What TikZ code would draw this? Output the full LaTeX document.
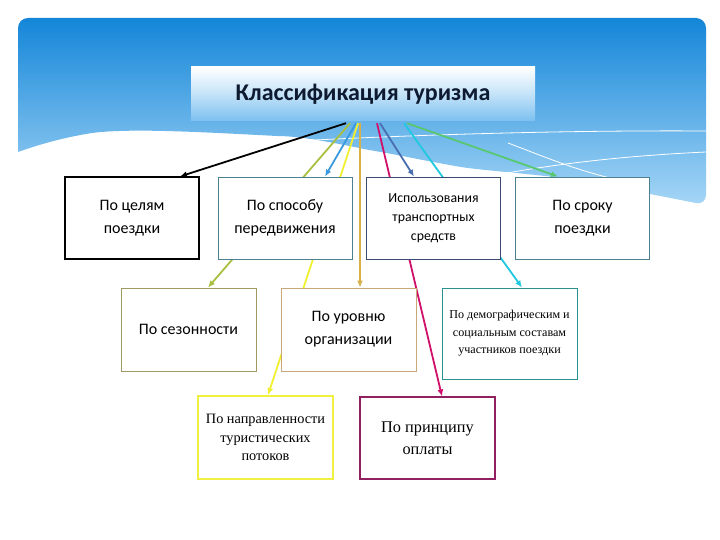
\documentclass[tikz,border=0pt]{standalone}
\usepackage{fontspec}
\setmainfont{Carlito}
\newfontfamily\serifru{Liberation Serif}
\usetikzlibrary{arrows.meta,calc}
\pgfdeclarelayer{bg}
\pgfdeclarelayer{mid}
\pgfsetlayers{bg,mid,main}
\definecolor{cBlack}{HTML}{000000}
\definecolor{cLime}{HTML}{A8C040}
\definecolor{cBlue}{HTML}{3A9AE0}
\definecolor{cYellow}{HTML}{F0F030}
\definecolor{cTan}{HTML}{D8B048}
\definecolor{cMag}{HTML}{D0106A}
\definecolor{cSteel}{HTML}{4A6FB0}
\definecolor{cCyan}{HTML}{20C8E0}
\definecolor{cGreen}{HTML}{58C870}
\definecolor{bTeal}{HTML}{4A8090}
\definecolor{bNavy}{HTML}{3C4C70}
\definecolor{bOlive}{HTML}{A09A60}
\definecolor{bTan}{HTML}{C8A878}
\definecolor{bDemo}{HTML}{2A9090}
\definecolor{bPlum}{HTML}{902060}
\definecolor{bYel}{HTML}{F0F040}
\definecolor{panelTop}{HTML}{1486D8}
\definecolor{panelBot}{HTML}{A6D6F6}
\definecolor{titleBot}{HTML}{7CC0F0}
\definecolor{titleText}{HTML}{0E1A30}
\begin{document}
\begin{tikzpicture}[x=1pt,y=-1pt,
  box/.style={draw, fill=white, line width=0.9pt, inner sep=2pt, align=center,
    minimum width=134pt, minimum height=82pt, font=\fontsize{16}{23}\selectfont},
  sbox/.style={box, font=\fontsize{13.8}{19}\selectfont},
  serbox/.style={box, font=\serifru\fontsize{12.1}{17.5}\selectfont},
  conn/.style={line width=1.8pt, -{Latex[length=7pt,width=6pt]}},
  deco/.style={white, line width=0.8pt}]
\useasboundingbox (0,0) rectangle (720,540);

% background panel
\begin{pgfonlayer}{bg}
\fill[white] (0,0) rectangle (720,540);
\shade[top color=panelTop, bottom color=panelBot, rounded corners=10pt]
  (18,152) -- (18,18) -- (706,18) -- (706,205)
  [sharp corners] .. controls (640,192) and (590,182) .. (554,177)
  .. controls (510,172) and (480,170) .. (461,167)
  .. controls (420,160) and (400,155) .. (369,150)
  .. controls (330,142) and (300,136) .. (277,136)
  .. controls (200,132) and (130,128) .. (92,133)
  .. controls (60,138) and (35,146) .. (18,152) -- cycle;
\draw[deco] (258,143) .. controls (380,136) and (550,130) .. (706,131);
\draw[deco] (461,182) .. controls (540,165) and (620,156) .. (706,152);
\draw[deco] (508,143) .. controls (540,155) and (570,168) .. (610,178);
\end{pgfonlayer}

% title
\node[minimum width=344pt, minimum height=54pt, inner sep=0pt,
  top color=white, bottom color=titleBot, middle color=white!55!titleBot,
  text=titleText, font=\bfseries\fontsize{24}{28}\selectfont]
  (title) at (363,94) {Классификация туризма};

% boxes
\node[box, draw=black, line width=1.1pt] (b1) at (132,218) {По целям\\поездки};
\node[box, draw=bTeal] (b2) at (285,218) {По способу\\передвижения};
\node[sbox, draw=bNavy] (b3) at (433.5,218) {Использования\\транспортных\\средств};
\node[box, draw=bTeal] (b4) at (582.5,218) {По сроку\\поездки};
\node[box, draw=bOlive, minimum width=135pt, minimum height=83pt] (c1) at (188.5,329.5) {По сезонности};
\node[box, draw=bTan, minimum width=135pt, minimum height=83pt] (c2) at (348.5,329.5) {По уровню\\организации};
\node[serbox, draw=bDemo, minimum width=135pt, minimum height=91pt] (c3) at (509.5,333.5) {По демографическим и\\социальным составам\\участников поездки};
\node[serbox, draw=bYel, line width=2pt, minimum width=135pt, minimum height=83pt,
  font=\serifru\fontsize{14.3}{18.5}\selectfont] (d1) at (265.5,437.5) {По направленности\\туристических\\потоков};
\node[box, draw=bPlum, line width=1.1pt, minimum width=135pt, minimum height=82pt,
  font=\serifru\fontsize{16.3}{22}\selectfont] (d2) at (427.5,438) {По принципу\\оплаты};

% connector start points
\coordinate (s1) at ([xshift=-17pt,yshift=-2pt]title.south);
\coordinate (s2) at ([xshift=-13pt,yshift=-2pt]title.south);
\coordinate (s3) at ([xshift=-7pt,yshift=-2pt]title.south);
\coordinate (s4) at ([xshift=-5pt,yshift=-2pt]title.south);
\coordinate (s5) at ([xshift=-3pt,yshift=-2pt]title.south);
\coordinate (s6) at ([xshift=14pt,yshift=-2pt]title.south);
\coordinate (s7) at ([xshift=17pt,yshift=-2pt]title.south);
\coordinate (s8) at ([xshift=41pt,yshift=-2pt]title.south);
\coordinate (s9) at ([xshift=44pt,yshift=-2pt]title.south);

\begin{pgfonlayer}{mid}
\draw[conn, cBlack] (s1) -- ([xshift=48pt]b1.north);
\draw[conn, cLime] (s2) -- ([xshift=19.5pt]c1.north);
\draw[conn, cBlue] (s3) -- ([xshift=40pt]b2.north);
\draw[conn, cYellow] (s4) -- ([xshift=2.5pt]d1.north);
\draw[conn, cTan] (s5) -- ([xshift=11.5pt]c2.north);
\draw[conn, cMag] (s6) -- ([xshift=14.5pt]d2.north);
\draw[conn, cSteel] (s7) -- ([xshift=-19.5pt]b3.north);
\draw[conn, cCyan] (s8) -- ([xshift=12.5pt]c3.north);
\draw[conn, cGreen] (s9) -- ([xshift=-24.5pt]b4.north);
\end{pgfonlayer}
\end{tikzpicture}
\end{document}
